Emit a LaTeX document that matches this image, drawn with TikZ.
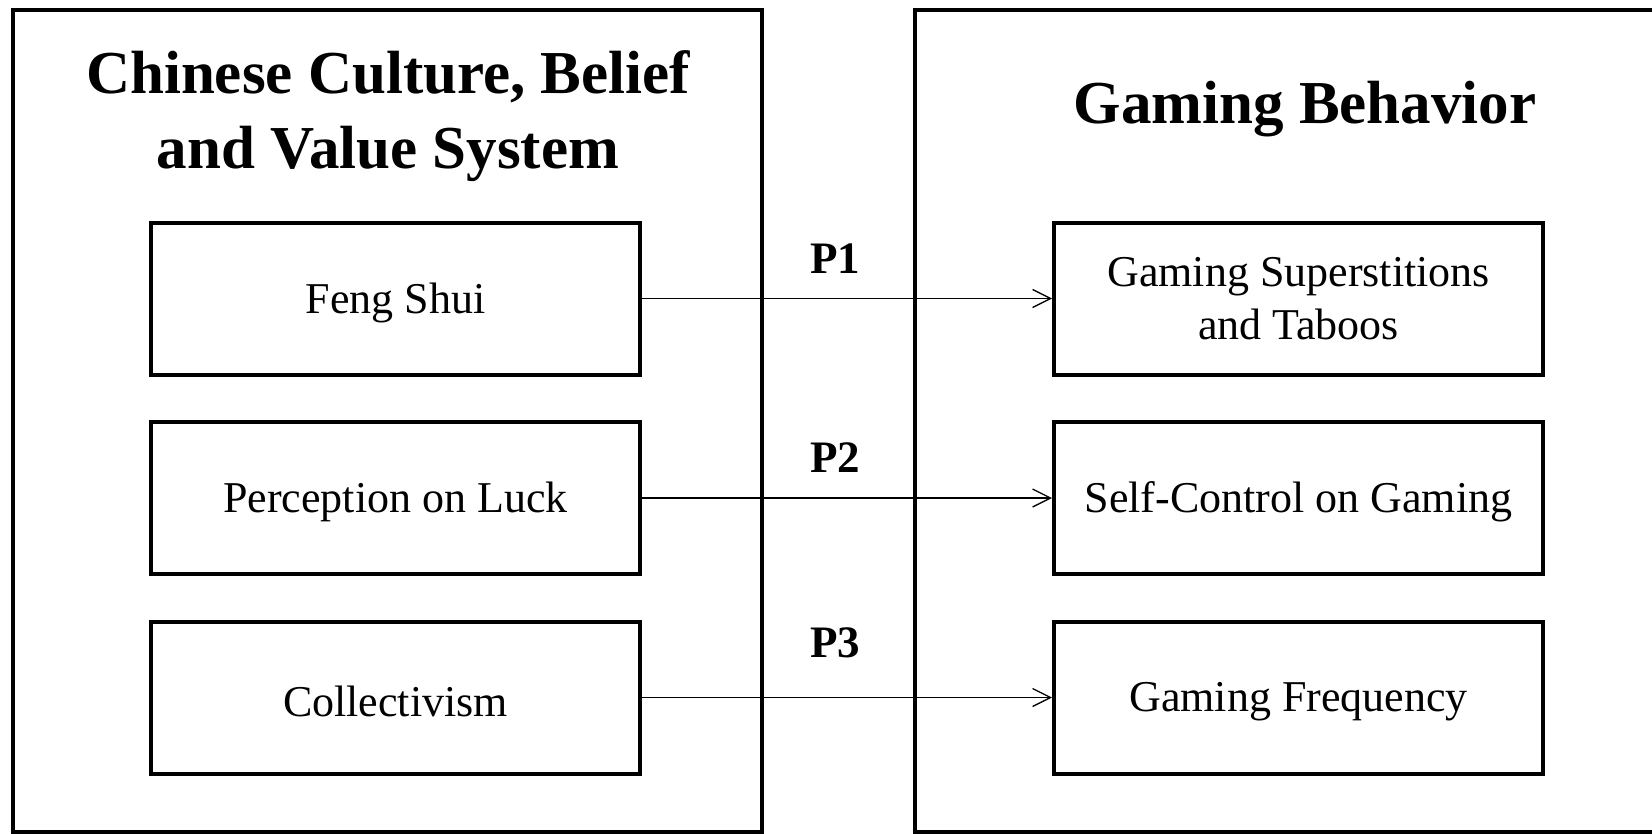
\documentclass[tikz,border=0pt]{standalone}
\usepackage{fontspec}
\setmainfont{Liberation Serif}
\usetikzlibrary{arrows.meta}
\newcommand{\lowtext}[1]{\raisebox{-4pt}[\height][\depth]{#1}}
\begin{document}
\begin{tikzpicture}[x=1pt,y=-1pt,
  outerbox/.style={draw, line width=4pt, inner sep=0pt},
  itembox/.style={draw, line width=4pt, minimum width=489pt, minimum height=152pt,
    inner sep=0pt, font=\fontsize{44}{53}\selectfont},
  titletext/.style={align=center, inner sep=0pt, font=\fontsize{61}{75}\selectfont\bfseries},
  plabel/.style={inner sep=0pt, font=\fontsize{45}{50}\selectfont\bfseries},
  link/.style={line width=1.3pt, -{Straight Barb[length=18pt,width=18pt]}}]
\useasboundingbox (0,0) rectangle (1652,833);
\clip (0,0) rectangle (1652,833);
% outer frames
\node[outerbox, minimum width=749pt, minimum height=822pt] (L) at (387.5,420.5) {};
\node[outerbox, minimum width=790pt, minimum height=822pt] (R) at (1310,420.5) {};
% titles
\node[titletext] (Lt) at (388,116) {Chinese Culture, Belief\\and Value System};
\node[titletext, anchor=base] (Rt) at (1305,123) {Gaming Behavior};
% left items
\node[itembox] (a1) at (395.5,298.5) {\lowtext{Feng Shui}};
\node[itembox] (a2) at (395.5,498) {\lowtext{Perception on Luck}};
\node[itembox] (a3) at (395.5,697.5) {\lowtext{Collectivism}};
% right items
\node[itembox] (b1) at (1298.5,298.5) {\lowtext{\begin{tabular}{@{}c@{}}Gaming Superstitions\\and Taboos\end{tabular}}};
\node[itembox] (b2) at (1298.5,498) {\lowtext{Self-Control on Gaming}};
\node[itembox] (b3) at (1298.5,697.5) {\lowtext{Gaming Frequency}};
% links
\draw[link] (a1) -- (b1);
\draw[link] (a2) -- (b2);
\draw[link] (a3) -- (b3);
% labels
\node[plabel] (p1) at (835,259) {P1};
\node[plabel] (p2) at (835,458) {P2};
\node[plabel] (p3) at (835,643) {P3};
\end{tikzpicture}
\end{document}
